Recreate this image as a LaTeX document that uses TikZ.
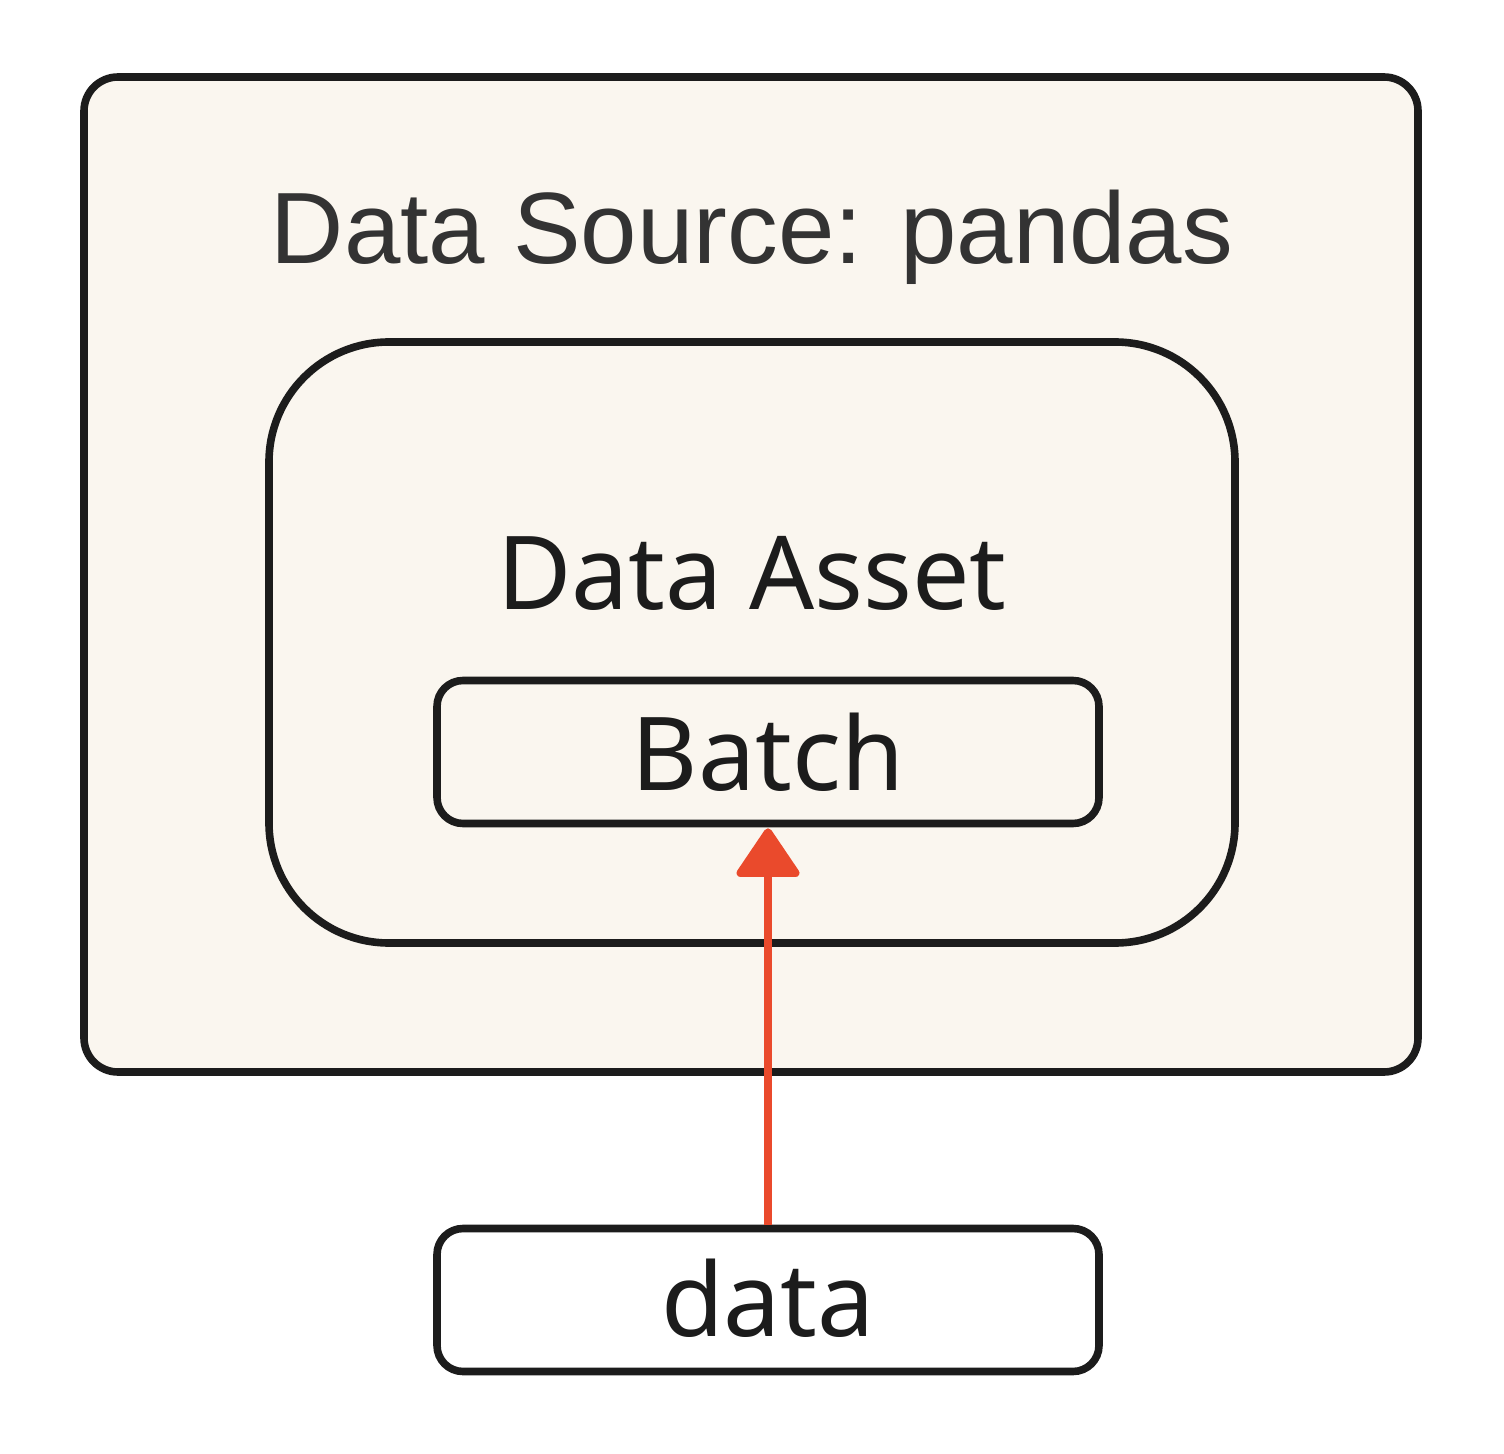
\documentclass[tikz,border=0pt]{standalone}
\usepackage{fontspec}
\setmainfont{Noto Sans}
\newfontfamily\titlefont{Liberation Sans}
\usetikzlibrary{arrows.meta}
\definecolor{cream}{HTML}{FAF6EF}
\definecolor{edge}{HTML}{1C1C1C}
\definecolor{arrowred}{HTML}{EA4A2C}
\definecolor{titlegray}{HTML}{333333}
\tikzset{
  box/.style={draw=edge, line width=3.8pt, fill=cream},
  lbl/.style={inner sep=0pt, text=edge, font=\fontsize{51}{60}\selectfont},
}
\begin{document}
\begin{tikzpicture}[x=0.5pt,y=-0.5pt]
\useasboundingbox (0,0) rectangle (1504,1454);
% outer data source
\draw[box, rounded corners=17pt] (84,77) rectangle (1418,1072);
\node[inner sep=0pt, text=titlegray, font=\titlefont\fontsize{50.7}{60}\selectfont, anchor=base] (ds) at (752,264) {Data Source: pandas};
% inner data asset
\draw[box, rounded corners=60pt] (269,342) rectangle (1235,943);
\node[lbl, anchor=base] (da) at (752,610) {Data Asset};
% batch
\node[box, rounded corners=13pt, minimum width=331pt, minimum height=71.5pt, inner sep=0pt] (batch) at (768,752) {};
\node[lbl, anchor=base] (batchlbl) at (768,790) {Batch};
% data
\node[draw=edge, line width=3.8pt, fill=white, rounded corners=13pt, minimum width=331pt, minimum height=71.5pt, inner sep=0pt] (data) at (768,1300) {};
\node[lbl, anchor=base] (datalbl) at (768,1336) {data};
% arrow
\draw[arrowred, line width=4pt, -{Triangle[length=26pt,width=34pt,round]}] (data.north) -- ([yshift=-0.5pt]batch.south);
\end{tikzpicture}
\end{document}
